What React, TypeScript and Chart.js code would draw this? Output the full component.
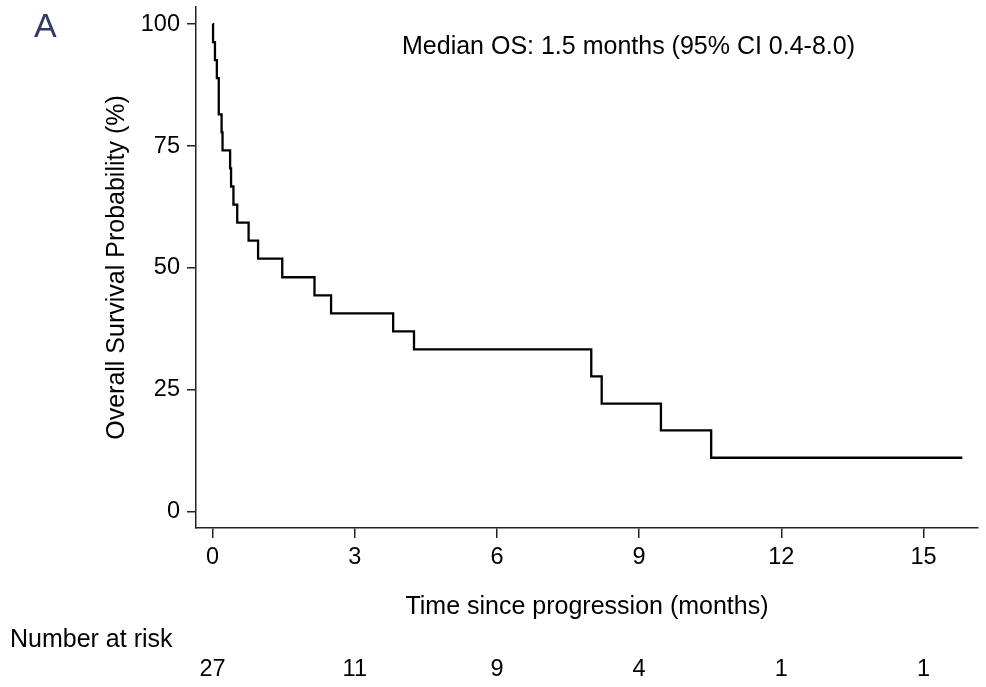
import React, { useEffect, useRef } from "react";
import { Chart, registerables } from "chart.js";

Chart.register(...registerables);

// Kaplan–Meier step points (time in months, survival %)
const months = [0, 0.01, 0.05, 0.09, 0.13, 0.19, 0.21, 0.37, 0.39, 0.44, 0.52, 0.76, 0.96, 1.47, 2.15, 2.5, 3.81, 4.25, 7.99, 8.21, 9.46, 10.52, 15.82];
const survival = [100, 96.3, 92.6, 88.9, 81.5, 77.8, 74.1, 70.4, 66.7, 63.0, 59.3, 55.6, 51.9, 48.1, 44.4, 40.7, 37.0, 33.3, 27.8, 22.2, 16.7, 11.1, 11.1];

const xTicks = [0, 3, 6, 9, 12, 15];
const yTicks = [0, 25, 50, 75, 100];

const riskTimes = [0, 3, 6, 9, 12, 15];
const riskCounts = [27, 11, 9, 4, 1, 1];

const panelLabel = "A";
const medianText = "Median OS: 1.5 months (95% CI 0.4-8.0)";
const xTitle = "Time since progression (months)";
const yTitle = "Overall Survival Probability (%)";
const riskTitle = "Number at risk";

const FONT = "'Liberation Sans', Arial, sans-serif";
const FS = 25;
const TICK_FS = 23.5;

const textPlugin = {
  id: "kmText",
  afterDraw(chart: any) {
    const ctx = chart.ctx;
    const xs = chart.scales.x;
    ctx.save();
    ctx.fillStyle = "#000";
    ctx.font = `${FS}px ${FONT}`;
    ctx.textBaseline = "middle";
    ctx.textAlign = "left";
    ctx.fillText(medianText, 402, 47);
    ctx.fillText(riskTitle, 10, 640);
    ctx.font = `${TICK_FS}px ${FONT}`;
    ctx.textAlign = "center";
    riskTimes.forEach((t, i) => {
      ctx.fillText(String(riskCounts[i]), xs.getPixelForValue(t), 670);
    });
    ctx.fillStyle = "#2e3d63";
    ctx.font = `34px ${FONT}`;
    ctx.textAlign = "left";
    ctx.fillText(panelLabel, 34, 28);
    ctx.restore();
  },
};

export default function App() {
  const ref = useRef<HTMLCanvasElement>(null);
  useEffect(() => {
    document.body.style.margin = "0";
    const canvas = ref.current!;
    const chart = new Chart(canvas, {
      type: "line",
      data: {
        datasets: [
          {
            data: months.map((t, i) => ({ x: t, y: survival[i] })),
            stepped: "before",
            borderColor: "#000",
            borderWidth: 2.3,
            pointRadius: 0,
            fill: false,
          },
        ],
      },
      options: {
        animation: false,
        responsive: false,
        devicePixelRatio: 1,
        layout: { padding: { left: 0, right: 8, top: 7, bottom: 0 } },
        plugins: { legend: { display: false }, tooltip: { enabled: false } },
        scales: {
          x: {
            type: "linear",
            min: -0.35,
            max: 16.15,
            afterBuildTicks: (s: any) => {
              s.ticks = xTicks.map((v) => ({ value: v }));
            },
            afterFit: (s: any) => {
              s.height = 159;
              s.paddingLeft = 0;
              s.paddingRight = 0;
            },
            grid: { drawOnChartArea: false, drawTicks: true, tickLength: 10, color: "#222", lineWidth: 1.5 },
            border: { display: true, color: "#222", width: 1.5 },
            ticks: { font: { family: FONT, size: TICK_FS }, color: "#000", padding: 5, maxRotation: 0, autoSkip: false },
            title: {
              display: true,
              text: xTitle,
              color: "#000",
              font: { family: FONT, size: FS },
              padding: { top: 0, bottom: 65 },
            },
          },
          y: {
            type: "linear",
            min: -3.3,
            max: 103.5,
            afterBuildTicks: (s: any) => {
              s.ticks = yTicks.map((v) => ({ value: v }));
            },
            afterFit: (s: any) => {
              s.width = 196;
              s.paddingTop = 0;
              s.paddingBottom = 0;
            },
            grid: { drawOnChartArea: false, drawTicks: true, tickLength: 9, color: "#222", lineWidth: 1.5 },
            border: { display: true, color: "#222", width: 1.5 },
            ticks: { font: { family: FONT, size: TICK_FS }, color: "#000", padding: 7 },
            title: {
              display: true,
              text: yTitle,
              color: "#000",
              font: { family: FONT, size: FS },
              padding: { top: 102, bottom: 0 },
            },
          },
        },
      },
      plugins: [textPlugin],
    } as any);
    return () => chart.destroy();
  }, []);
  return (
    <div style={{ position: "fixed", left: 0, top: 0, width: 986, height: 687, background: "#fff" }}>
      <canvas ref={ref} width={986} height={687} style={{ width: 986, height: 687, display: "block" }} />
    </div>
  );
}
